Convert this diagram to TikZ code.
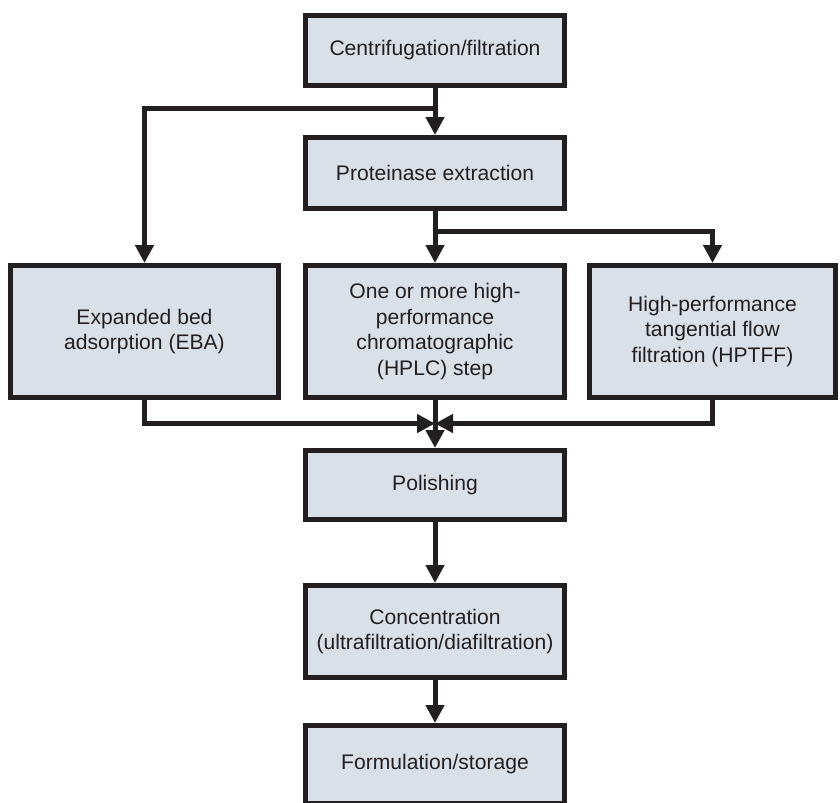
\documentclass[tikz,border=0pt]{standalone}
\usepackage{fontspec}
\setmainfont{Liberation Sans}
\usetikzlibrary{arrows.meta,calc}

\definecolor{boxfill}{RGB}{217,224,232}
\definecolor{ink}{RGB}{35,31,32}

\begin{document}
\begin{tikzpicture}[
  stage/.style={draw=ink, fill=boxfill, line width=0.1cm, minimum width=5.18cm,
    minimum height=1.40cm, align=center, inner sep=2pt},
  tall/.style={stage, minimum height=2.64cm},
  link/.style={draw=ink, line width=0.1cm},
  flow/.style={link, -{Triangle[length=0.36cm, width=0.36cm]}},
  every node/.style={font=\fontsize{12}{14.6}\selectfont, text=ink}
 ]
\useasboundingbox (0,0) rectangle (16.80,-16.04);

\node[stage] (cent) at (8.70,-1.01) {Centrifugation/filtration};
\node[stage, minimum height=1.42cm] (prot) at (8.70,-3.46) {Proteinase extraction};

\node[tall, minimum width=5.36cm] (eba) at (2.89,-6.63) {Expanded bed\\adsorption (EBA)};
\node[tall] (hplc) at (8.70,-6.63) {One or more high-\\performance\\chromatographic\\(HPLC) step};
\node[tall, minimum width=4.92cm] (hptff) at (14.25,-6.63) {High-performance\\tangential flow\\filtration (HPTFF)};

\node[stage, minimum height=1.38cm] (pol) at (8.70,-9.70) {Polishing};
\node[stage, minimum height=1.84cm] (conc) at (8.70,-12.63) {Concentration\\(ultrafiltration/diafiltration)};
\node[stage, minimum height=1.56cm] (form) at (8.70,-15.29) {Formulation/storage};

\coordinate (split1) at ($(cent.south)!0.43!(prot.north)$);
\coordinate (split2) at ($(prot.south)!0.40!(hplc.north)$);
\coordinate (join) at ($(hplc.south)!0.49!(pol.north)$);

\draw[flow] (cent.south) -- (prot.north);
\draw[flow] (split1) -| (eba.north);

\draw[flow] (prot.south) -- (hplc.north);
\draw[flow] (split2) -| (hptff.north);

\draw[flow] (eba.south) |- (join);
\draw[flow] (hptff.south) |- (join);
\draw[flow] (hplc.south) -- (pol.north);

\draw[flow] (pol.south) -- (conc.north);
\draw[flow] (conc.south) -- (form.north);
\end{tikzpicture}
\end{document}
